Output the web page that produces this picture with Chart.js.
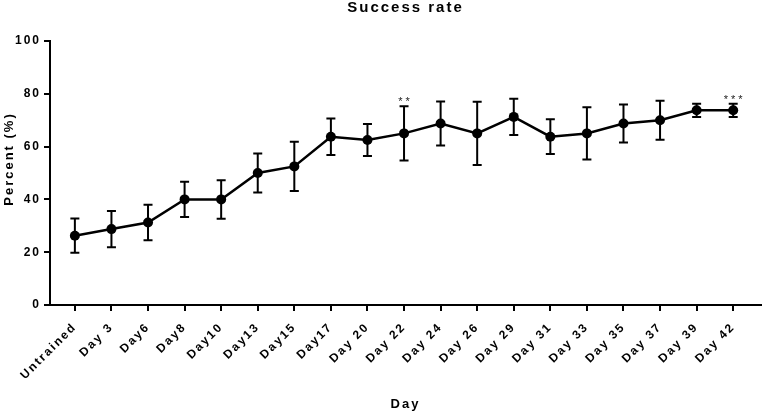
<!DOCTYPE html>
<html>
<head>
<meta charset="utf-8">
<script src="https://cdn.jsdelivr.net/npm/chart.js@4.4.1/dist/chart.umd.min.js"></script>
<style>
  html, body { margin: 0; padding: 0; background: #fff; }
  #wrap { width: 766px; height: 412px; position: relative; }
</style>
</head>
<body>
<div id="wrap"><canvas id="chart"></canvas></div>
<script>
// values (mean and error, percent)
const categories = ['Untrained', 'Day 3', 'Day6', 'Day8', 'Day10', 'Day13', 'Day15', 'Day17', 'Day 20',
    'Day 22', 'Day 24', 'Day 26', 'Day 29', 'Day 31', 'Day 33', 'Day 35', 'Day 37', 'Day 39', 'Day 42'];
const means = [26.25, 28.75, 31.25, 40, 40, 50, 52.5, 63.75, 62.5,
    65, 68.75, 65, 71.25, 63.75, 65, 68.75, 70, 73.75, 73.75];
const errors = [6.5, 6.9, 6.7, 6.7, 7.3, 7.4, 9.3, 6.9, 6.1,
    10.3, 8.3, 12.0, 6.9, 6.6, 9.9, 7.2, 7.4, 2.5, 2.5];
const marks = ['', '', '', '', '', '', '', '', '', '**', '', '', '', '', '', '', '', '', '***'];
const yTicks = [0, 20, 40, 60, 80, 100];
const yTitle = 'Percent (%)';

const FONT = "'Liberation Sans', Arial, sans-serif";
const INK = '#000';

// canvas letter spacing is not a Chart.js option; set it before measuring and drawing
const spacing = {
    id: 'spacing',
    beforeUpdate(chart) { chart.ctx.letterSpacing = '2px'; },
    beforeDraw(chart) { chart.ctx.letterSpacing = '2px'; }
};

// vertical error bars with caps (under the points), significance stars, y title
const errorBars = {
    id: 'errorBars',
    beforeDatasetsDraw(chart) {
        const { ctx, scales: { x, y } } = chart;
        ctx.save();
        ctx.strokeStyle = INK;
        ctx.lineWidth = 2;
        means.forEach(function (m, i) {
            const px = x.getPixelForValue(i);
            const top = y.getPixelForValue(m + errors[i]);
            const bot = y.getPixelForValue(m - errors[i]);
            ctx.beginPath();
            ctx.moveTo(px, top); ctx.lineTo(px, bot);
            ctx.moveTo(px - 4.5, top); ctx.lineTo(px + 4.5, top);
            ctx.moveTo(px - 4.5, bot); ctx.lineTo(px + 4.5, bot);
            ctx.stroke();
        });
        ctx.restore();
    },
    afterDatasetsDraw(chart) {
        const { ctx, scales: { x, y } } = chart;
        ctx.save();
        ctx.letterSpacing = '3px';
        ctx.fillStyle = '#222';
        ctx.font = '11px ' + FONT;
        ctx.textAlign = 'center';
        ctx.textBaseline = 'alphabetic';
        marks.forEach(function (s, i) {
            if (!s) return;
            const px = x.getPixelForValue(i) + 1.5;
            const top = y.getPixelForValue(means[i] + errors[i]);
            ctx.fillText(s, px, top - 1);
        });
        ctx.restore();
    },
    afterDraw(chart) {
        // axis title sits above the plot's middle in the reference, so place it by hand
        const ctx = chart.ctx;
        ctx.save();
        ctx.letterSpacing = '2px';
        ctx.fillStyle = INK;
        ctx.font = 'bold 13px ' + FONT;
        ctx.textAlign = 'center';
        ctx.textBaseline = 'middle';
        ctx.translate(9, 160);
        ctx.rotate(-Math.PI / 2);
        ctx.fillText(yTitle, 1, 0);
        ctx.restore();
    }
};

new Chart(document.getElementById('chart'), {
    type: 'line',
    data: {
        datasets: [{
            data: means.map((v, i) => ({ x: i, y: v })),
            borderColor: INK,
            borderWidth: 2.5,
            backgroundColor: INK,
            pointBackgroundColor: INK,
            pointBorderWidth: 0,
            pointRadius: 5,
            tension: 0,
            fill: false
        }]
    },
    options: {
        responsive: true,
        maintainAspectRatio: false,
        animation: false,
        devicePixelRatio: 1,
        layout: { padding: 0 },
        plugins: {
            legend: { display: false },
            tooltip: { enabled: false },
            title: {
                display: true,
                text: 'Success rate',
                color: INK,
                fullSize: false,
                font: { family: FONT, size: 15, weight: 'bold', lineHeight: 1 },
                padding: { top: 0, bottom: 26 }
            }
        },
        scales: {
            x: {
                type: 'linear',
                min: -0.68,
                max: 18.76,
                afterBuildTicks: s => { s.ticks = categories.map((_, i) => ({ value: i })); },
                afterFit: s => { s.height = 107; },
                grid: { drawOnChartArea: false, drawTicks: true, tickLength: 6, color: INK, lineWidth: 2 },
                border: { color: INK, width: 2 },
                ticks: {
                    autoSkip: false,
                    maxRotation: 45,
                    minRotation: 45,
                    padding: 9,
                    color: INK,
                    font: { family: FONT, size: 12, weight: 'bold' },
                    callback: v => categories[v]
                },
                title: {
                    display: true,
                    text: 'Day',
                    color: INK,
                    font: { family: FONT, size: 13, weight: 'bold', lineHeight: 1.2 },
                    padding: { top: 4, bottom: 0 }
                }
            },
            y: {
                min: 0,
                max: 100,
                afterBuildTicks: s => { s.ticks = yTicks.map(v => ({ value: v })); },
                afterFit: s => { s.width = 50; },
                grid: { drawOnChartArea: false, drawTicks: true, tickLength: 6, color: INK, lineWidth: 2 },
                border: { color: INK, width: 2 },
                ticks: {
                    padding: 3,
                    color: INK,
                    font: { family: FONT, size: 12, weight: 'bold' }
                },
                title: { display: false }
            }
        }
    },
    plugins: [spacing, errorBars]
});
</script>
</body>
</html>
